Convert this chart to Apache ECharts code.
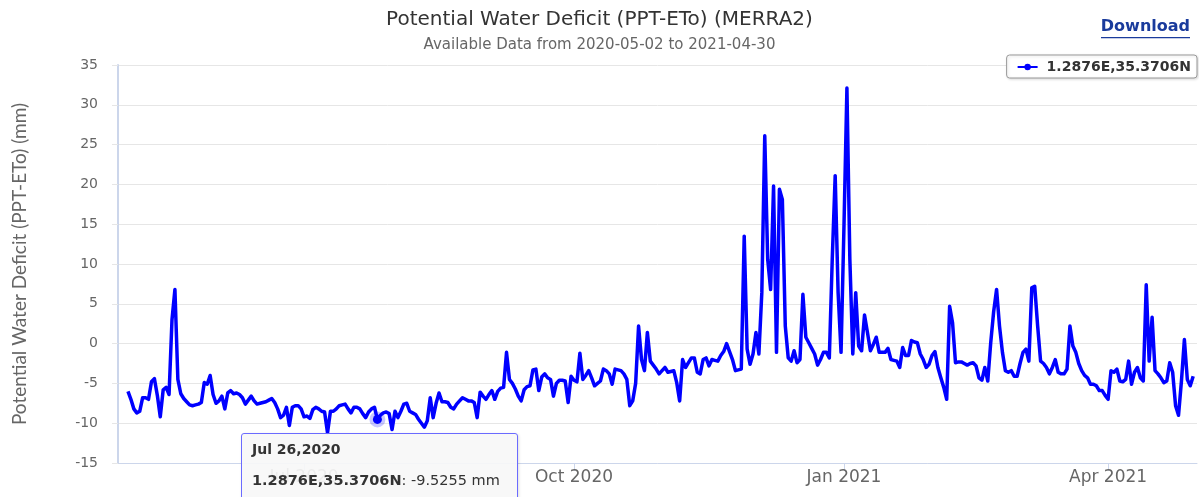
<!DOCTYPE html>
<html>
<head>
<meta charset="utf-8">
<script src="https://cdn.jsdelivr.net/npm/echarts@6/dist/echarts.min.js"></script>
<style>
  html, body { margin: 0; padding: 0; background: #fff; }
  #chart { width: 1199px; height: 497px; }
</style>
</head>
<body>
<div id="chart"></div>
<script>
// daily PPT-ETo values, 2020-05-02 .. 2021-04-30
const startDate = '2020-05-02';
const seriesName = '1.2876E,35.3706N';
const deficit = [
  -6.0, -7.0, -8.2, -8.7, -8.5, -6.8, -6.8, -7.0, -4.8, -4.4,
  -6.5, -9.2, -5.8, -5.5, -6.4, 3.0, 6.8, -4.5, -6.3, -6.9,
  -7.3, -7.7, -7.8, -7.7, -7.6, -7.4, -4.9, -5.1, -4.0, -6.4,
  -7.5, -7.2, -6.6, -8.2, -6.2, -5.9, -6.3, -6.2, -6.4, -6.8,
  -7.6, -7.1, -6.6, -7.2, -7.6, -7.5, -7.4, -7.3, -7.1, -6.9,
  -7.4, -8.2, -9.3, -9.0, -8.0, -10.3, -8.0, -7.8, -7.8, -8.2,
  -9.2, -9.1, -9.4, -8.3, -8.0, -8.2, -8.5, -8.6, -11.2, -8.5,
  -8.5, -8.2, -7.8, -7.7, -7.6, -8.2, -8.7, -8.0, -8.0, -8.2,
  -8.8, -9.3, -8.6, -8.2, -8.0, -9.5255, -9.0, -8.7, -8.6, -8.8,
  -10.8, -8.5, -9.3, -8.5, -7.6, -7.5, -8.5, -8.7, -8.9, -9.5,
  -10.0, -10.5, -9.7, -6.8, -9.3, -7.5, -6.2, -7.3, -7.3, -7.4,
  -8.0, -8.2, -7.6, -7.2, -6.8, -7.0, -7.2, -7.2, -7.4, -9.3,
  -6.1, -6.6, -7.0, -6.4, -5.9, -7.0, -6.0, -5.6, -5.5, -1.1,
  -4.5, -5.0, -5.7, -6.6, -7.2, -5.8, -5.4, -5.3, -3.3, -3.2,
  -5.9, -4.2, -3.8, -4.3, -4.5, -6.6, -5.0, -4.6, -4.6, -4.7,
  -7.4, -4.1, -4.6, -4.8, -1.2, -4.5, -4.0, -3.4, -4.3, -5.3,
  -5.0, -4.7, -3.2, -3.4, -3.8, -5.1, -3.2, -3.3, -3.4, -3.8,
  -4.5, -7.8, -7.2, -5.0, 2.2, -2.0, -3.4, 1.4, -2.2, -2.7,
  -3.2, -3.8, -3.4, -3.0, -3.6, -3.5, -3.4, -4.9, -7.2, -2.0,
  -3.0, -2.4, -1.8, -1.8, -3.6, -3.8, -2.0, -1.8, -2.8, -2.0,
  -2.1, -2.2, -1.5, -1.0, 0.0, -1.0, -2.0, -3.4, -3.3, -3.2,
  13.5, -0.7, -2.6, -1.3, 1.4, -1.3, 6.4, 26.1, 10.6, 6.8,
  19.8, -1.1, 19.4, 18.1, 2.2, -1.8, -2.2, -0.9, -2.4, -2.0,
  6.2, 0.8, 0.1, -0.6, -1.3, -2.7, -2.0, -1.1, -1.1, -1.8,
  10.6, 21.1, 6.4, -1.1, 14.8, 32.1, 10.6, -1.3, 6.4, -0.3,
  -0.9, 3.6, 1.4, -0.9, -0.1, 0.8, -1.1, -1.1, -1.1, -0.6,
  -2.0, -2.1, -2.2, -3.0, -0.5, -1.5, -1.5, 0.4, 0.2, 0.1,
  -1.3, -2.0, -3.0, -2.6, -1.5, -1.0, -3.0, -4.3, -5.5, -7.0,
  4.7, 2.6, -2.4, -2.3, -2.3, -2.5, -2.7, -2.5, -2.4, -2.8,
  -4.3, -4.6, -3.0, -4.7, 0.1, 4.0, 6.8, 2.2, -1.1, -3.4,
  -3.6, -3.4, -4.1, -4.1, -2.5, -1.1, -0.7, -2.2, 7.0, 7.2,
  2.2, -2.2, -2.5, -3.0, -3.8, -3.0, -2.0, -3.6, -3.8, -3.8,
  -3.2, 2.2, -0.3, -1.1, -2.5, -3.4, -4.0, -4.3, -5.1, -5.1,
  -5.3, -5.9, -5.9, -6.5, -7.0, -3.4, -3.6, -3.2, -4.7, -4.8,
  -4.5, -2.2, -5.1, -3.6, -3.0, -4.3, -4.7, 7.4, -2.2, 3.3,
  -3.4, -3.8, -4.3, -4.9, -4.7, -2.4, -3.6, -7.8, -9.0, -4.7,
  0.5, -4.5, -5.3, -4.1
];
const monthTicks = ['2020-07-01', '2020-10-01', '2021-01-01', '2021-04-01'];
const tooltipDay = '2020-07-26';

const DAY = 86400000;
const MONTHS = ['Jan','Feb','Mar','Apr','May','Jun','Jul','Aug','Sep','Oct','Nov','Dec'];
const t0 = Date.parse(startDate + 'T00:00:00Z');
const points = deficit.map((v, i) => [t0 + i * DAY, v]);
const tipIndex = Math.round((Date.parse(tooltipDay + 'T00:00:00Z') - t0) / DAY);
const tickTimes = monthTicks.map(s => Date.parse(s + 'T00:00:00Z'));

const chart = echarts.init(document.getElementById('chart'));

const option = {
  animation: false,
  title: {
    text: 'Potential Water Deficit (PPT-ETo) (MERRA2)',
    subtext: 'Available Data from 2020-05-02 to 2021-04-30',
    left: 'center',
    top: 5,
    itemGap: 8,
    textStyle: { fontFamily: 'DejaVu Sans', fontSize: 20, fontWeight: 'normal', color: '#333' },
    subtextStyle: { fontFamily: 'DejaVu Sans', fontSize: 15, color: '#666' }
  },
  legend: {
    right: 2,
    top: 55,
    padding: [5, 6, 4, 10],
    borderColor: '#999',
    borderWidth: 1,
    borderRadius: 3,
    backgroundColor: '#fff',
    shadowColor: 'rgba(0,0,0,0.15)',
    shadowBlur: 3,
    shadowOffsetX: 1,
    shadowOffsetY: 1,
    itemWidth: 20,
    itemHeight: 8,
    textStyle: { fontFamily: 'DejaVu Sans', fontSize: 14, fontWeight: 'bold', color: '#333', padding: [0, 0, 0, 4] },
    data: [seriesName]
  },
  grid: { left: 118, right: 2, top: 65, bottom: 34 },
  tooltip: {
    trigger: 'axis',
    axisPointer: { type: 'none' },
    alwaysShowContent: true,
    transitionDuration: 0,
    confine: false,
    position: [241, 433],
    backgroundColor: 'rgba(247,247,247,0.92)',
    borderColor: '#6b6bff',
    borderWidth: 1,
    padding: [7, 10, 12, 10],
    extraCssText: 'border-radius:3px;box-shadow:1px 1px 3px rgba(0,0,0,0.12);min-width:255px;',
    textStyle: { fontFamily: 'DejaVu Sans', fontSize: 14.5, color: '#333' },
    formatter: (params) => {
      const p = params[0];
      const d = new Date(p.value[0]);
      const head = MONTHS[d.getUTCMonth()] + ' ' + d.getUTCDate() + ',' + d.getUTCFullYear();
      return '<div style="font-weight:bold;font-size:14px;line-height:17px;">' + head + '</div>' +
        '<div style="margin-top:14px;line-height:17px;"><b>' + p.seriesName + '</b>: ' + p.value[1] + ' mm</div>';
    }
  },
  xAxis: {
    type: 'value',
    min: t0 - 3.4 * DAY,
    max: t0 + 364.3 * DAY,
    axisLine: { onZero: false, lineStyle: { color: '#ccd6eb', width: 1 } },
    axisTick: {
      show: true,
      length: 8,
      lineStyle: { color: '#ccd6eb' },
      customValues: tickTimes
    },
    axisLabel: {
      margin: 6,
      color: '#666',
      fontFamily: 'DejaVu Sans',
      fontSize: 17,
      customValues: tickTimes,
      formatter: (val) => {
        const d = new Date(val);
        return MONTHS[d.getUTCMonth()] + ' ' + d.getUTCFullYear();
      }
    },
    splitLine: { show: false }
  },
  yAxis: {
    type: 'value',
    min: -15,
    max: 35,
    interval: 5,
    name: 'Potential Water Deficit (PPT-ETo) (mm)',
    nameLocation: 'middle',
    nameGap: 89,
    nameRotate: 90,
    nameTextStyle: { fontFamily: "'Liberation Sans Narrow', Lato, sans-serif", fontSize: 19, color: '#666' },
    axisLine: { show: true, lineStyle: { color: '#ccd6eb', width: 2 } },
    axisTick: { show: true, length: 6, lineStyle: { color: '#e6e6e6' } },
    axisLabel: { margin: 20, color: '#666', fontFamily: 'DejaVu Sans', fontSize: 14 },
    splitLine: { lineStyle: { color: '#e6e6e6' } }
  },
  graphic: [
    {
      type: 'text',
      right: 9,
      top: 19,
      style: { text: 'Download', font: 'bold 16px "DejaVu Sans"', fill: '#1a3b9c' }
    },
    {
      type: 'rect',
      right: 9,
      top: 37,
      shape: { width: 89, height: 1.2 },
      style: { fill: '#1a3b9c' }
    }
  ],
  series: [{
    name: seriesName,
    type: 'line',
    data: points,
    showSymbol: false,
    symbol: 'circle',
    symbolSize: 9,
    color: '#0000ff',
    lineStyle: { color: '#0000ff', width: 3.5, join: 'round' },
    itemStyle: { color: '#0000ff' },
    emphasis: {
      scale: false,
      itemStyle: { color: '#0000ff', borderColor: 'rgba(0,0,255,0.22)', borderWidth: 7 }
    }
  }]
};

chart.setOption(option);
chart.dispatchAction({ type: 'showTip', seriesIndex: 0, dataIndex: tipIndex });
</script>
</body>
</html>
